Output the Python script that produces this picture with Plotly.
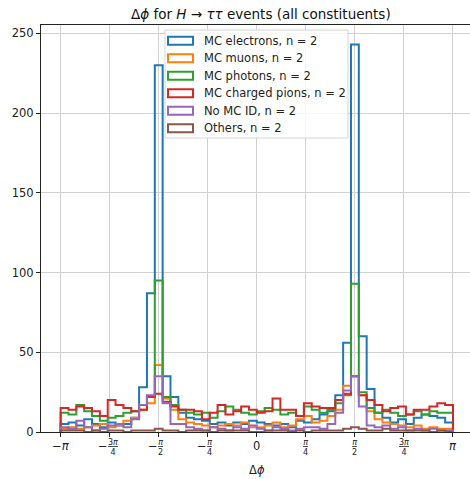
import numpy as np
import plotly.graph_objects as go

# ---------------- data ----------------
N_BINS = 50
SERIES_NAMES = ["MC electrons, n = 2", "MC muons, n = 2", "MC photons, n = 2",
                "MC charged pions, n = 2", "No MC ID, n = 2", "Others, n = 2"]
COLORS = ["#1f77b4", "#ff7f0e", "#2ca02c", "#d62728", "#9467bd", "#8c564b"]

electrons = [5, 6, 4, 8, 5, 3, 6, 4, 5, 9, 28, 87, 230, 35, 22, 12, 9, 8, 7, 5, 6, 4, 6, 5, 7,
             6, 5, 4, 5, 3, 7, 6, 8, 11, 13, 23, 56, 243, 60, 27, 12, 9, 6, 8, 5, 9, 11, 10, 9, 6]
muons = [2, 3, 2, 3, 4, 5, 3, 4, 7, 9, 14, 18, 42, 21, 14, 8, 6, 5, 4, 3, 4, 5, 4, 6, 3,
         3, 4, 6, 3, 4, 8, 10, 6, 7, 10, 14, 29, 35, 23, 13, 8, 6, 5, 4, 3, 4, 2, 3, 2, 2]
photons = [12, 11, 17, 13, 10, 7, 9, 10, 12, 13, 17, 22, 95, 22, 17, 14, 12, 11, 12, 9, 13, 16, 14, 12, 11,
           13, 15, 14, 11, 12, 10, 16, 14, 12, 14, 18, 23, 93, 25, 15, 12, 14, 12, 10, 11, 13, 11, 13, 12, 12]
pions = [15, 14, 16, 15, 13, 10, 20, 17, 15, 13, 14, 22, 24, 19, 16, 14, 14, 13, 8, 12, 17, 11, 13, 16, 14,
         12, 13, 21, 14, 14, 10, 18, 16, 15, 15, 20, 24, 35, 23, 20, 17, 13, 15, 16, 11, 14, 14, 16, 18, 17]
no_id = [3, 2, 7, 3, 1, 2, 4, 5, 3, 8, 17, 23, 35, 18, 5, 5, 3, 2, 1, 3, 2, 1, 3, 2, 4,
         2, 1, 3, 2, 1, 2, 3, 3, 2, 5, 12, 26, 35, 16, 4, 3, 4, 2, 3, 1, 2, 1, 2, 1, 1]
others = [1, 1, 1, 0, 1, 0, 1, 1, 0, 1, 1, 1, 2, 1, 1, 0, 1, 1, 1, 0, 1, 1, 1, 1, 0,
          0, 1, 1, 1, 0, 1, 0, 1, 1, 1, 1, 2, 3, 2, 1, 1, 2, 1, 1, 1, 1, 1, 0, 1, 0]
ALL_COUNTS = [electrons, muons, photons, pions, no_id, others]

XTICK_VALUES = [-np.pi, -3 * np.pi / 4, -np.pi / 2, -np.pi / 4, 0, np.pi / 4, np.pi / 2, 3 * np.pi / 4, np.pi]
# (sign, numerator, denominator); denominator None -> plain label
XTICK_LABELS = [("−", "<i>π</i>", None), ("−", "3<i>π</i>", "4"), ("−", "<i>π</i>", "2"),
                ("−", "<i>π</i>", "4"), ("", "0", None), ("", "<i>π</i>", "4"),
                ("", "<i>π</i>", "2"), ("", "3<i>π</i>", "4"), ("", "<i>π</i>", None)]
YTICK_VALUES = [0, 50, 100, 150, 200, 250]

TITLE = "Δ<i>ϕ</i> for <i>H</i> → <i>ττ</i> events (all constituents)"
XLABEL = "Δ<i>ϕ</i>"

FONT = "DejaVu Sans"

# ---------------- layout geometry (pixels) ----------------
W, H = 470, 479
ML, MR, MT, MB = 41, 0, 25, 47
PW, PH = W - ML - MR, H - MT - MB


def px_x(p):
    return (p - ML) / PW


def px_y(p):
    return (H - MB - p) / PH


LEG_BOX = (165, 30, 348, 138)      # left, top, right, bottom
LEG_SYM_X = (168, 193)
LEG_TEXT_X = 202
LEG_ROW0 = 40.7
LEG_ROW_STEP = 17.5
LEG_SYM_H = 8

edges = np.linspace(-np.pi, np.pi, N_BINS + 1)

fig = go.Figure()

# step outlines
for name, color, counts in zip(SERIES_NAMES, COLORS, ALL_COUNTS):
    c = np.asarray(counts, dtype=float)
    xs = np.concatenate([[edges[0]], edges[:-1], [edges[-1]]])
    ys = np.concatenate([[0.0], c, [0.0]])
    fig.add_trace(go.Scatter(x=xs, y=ys, mode="lines", name=name,
                             line=dict(color=color, width=2, shape="hv"),
                             showlegend=False, hoverinfo="skip"))

shapes = []
annotations = []

# legend (matplotlib style: outlined rectangles)
shapes.append(dict(type="rect", xref="paper", yref="paper", layer="above",
                   x0=px_x(LEG_BOX[0]), x1=px_x(LEG_BOX[2]), y0=px_y(LEG_BOX[3]), y1=px_y(LEG_BOX[1]),
                   fillcolor="rgba(255,255,255,0.85)", line=dict(color="#d4d4d4", width=1)))
for k, (name, color) in enumerate(zip(SERIES_NAMES, COLORS)):
    cy = LEG_ROW0 + k * LEG_ROW_STEP
    shapes.append(dict(type="rect", xref="paper", yref="paper", layer="above",
                       x0=px_x(LEG_SYM_X[0]), x1=px_x(LEG_SYM_X[1]),
                       y0=px_y(cy + LEG_SYM_H / 2), y1=px_y(cy - LEG_SYM_H / 2),
                       fillcolor="rgba(0,0,0,0)", line=dict(color=color, width=2)))
    annotations.append(dict(x=px_x(LEG_TEXT_X), y=px_y(cy), xref="paper", yref="paper", text=name,
                            showarrow=False, xanchor="left", yanchor="middle",
                            font=dict(family=FONT, size=11.5, color="#222")))

# x tick labels as annotations (stacked fractions)
for val, (sign, num, den) in zip(XTICK_VALUES, XTICK_LABELS):
    if den is None:
        annotations.append(dict(x=val, y=0, xref="x", yref="y", text=sign + num, showarrow=False,
                                yanchor="middle", yshift=-14, font=dict(family=FONT, size=11.5, color="#222")))
    else:
        fshift = 0
        if sign:
            fshift = 3 if num.startswith("3") else 2
            annotations.append(dict(x=val, y=0, xref="x", yref="y", text=sign, showarrow=False,
                                    xshift=-6 if not num.startswith("3") else -7,
                                    yanchor="middle", yshift=-14,
                                    font=dict(family=FONT, size=11.5, color="#222")))
        annotations.append(dict(x=val, y=0, xref="x", yref="y", text="<u>" + num + "</u><br>" + den,
                                showarrow=False, xshift=fshift, yanchor="middle", yshift=-15,
                                font=dict(family=FONT, size=8, color="#222")))
annotations.append(dict(x=0, y=px_y(470), xref="x", yref="paper", text=XLABEL, showarrow=False,
                        yanchor="middle", font=dict(family=FONT, size=11.5, color="#222")))

fig.update_layout(
    width=W, height=H,
    margin=dict(l=ML, r=MR, t=MT, b=MB),
    paper_bgcolor="white", plot_bgcolor="white",
    font=dict(family=FONT, size=11.5, color="#222"),
    title=dict(text=TITLE, x=0.555, xref="container", y=1 - 14 / H, yref="container",
               xanchor="center", yanchor="middle", font=dict(family=FONT, size=13.5, color="#111")),
    showlegend=False,
    shapes=shapes,
    annotations=annotations,
    xaxis=dict(range=[-3.456, 3.414], tickvals=XTICK_VALUES, ticktext=[""] * len(XTICK_VALUES),
               showgrid=True, gridcolor="#d0d0d0", gridwidth=1, zeroline=False,
               showline=True, linecolor="#222", linewidth=1, mirror=True,
               ticks="outside", ticklen=4, tickcolor="#222"),
    yaxis=dict(range=[0, 255.2], tickvals=YTICK_VALUES, showgrid=True, gridcolor="#d0d0d0",
               gridwidth=1, zeroline=False, showline=True, linecolor="#222", linewidth=1,
               ticks="outside", ticklen=4, tickcolor="#222", tickfont=dict(family=FONT, size=11.5)),
)

fig.write_html("out.html")
